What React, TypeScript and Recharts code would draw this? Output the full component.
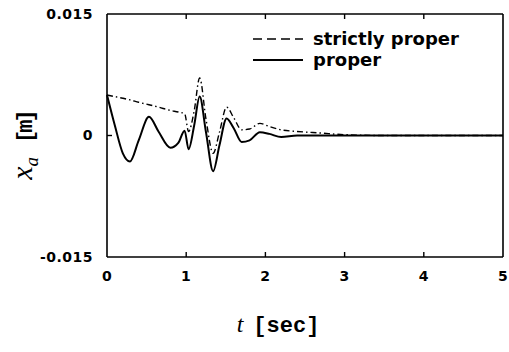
import { Line, LineChart, XAxis, YAxis } from "recharts";

const TIME = [
  0, 0.1, 0.2, 0.29, 0.4, 0.53, 0.65, 0.8, 0.9, 0.98, 1.03, 1.1, 1.17, 1.25, 1.34, 1.42, 1.51, 1.6,
  1.7, 1.8, 1.93, 2.05, 2.2, 2.4, 2.7, 3, 3.5, 4, 4.5, 5,
];

const PROPER = [
  0.005, 0.0012, -0.0022, -0.0032, -0.0006, 0.0023, 0.0005, -0.0015, -0.0009, 0.0006, -0.0017,
  0.0012, 0.0048, 0.0004, -0.0044, -0.0012, 0.0021, 0.0009, -0.0008, -0.0006, 0.0004, 0.0002,
  -0.0002, 0, 0, 0, 0, 0, 0, 0,
];

const STRICTLY_PROPER = [
  0.005, 0.0048, 0.0046, 0.0044, 0.0041, 0.0038, 0.0035, 0.0031, 0.0029, 0.0027, 0.0005, 0.003,
  0.0071, 0.002, -0.0022, 0.0004, 0.0035, 0.0022, 0.0007, 0.0008, 0.0015, 0.0011, 0.0007, 0.0005,
  0.0003, 0.0001, 0, 0, 0, 0,
];

const X_TICKS = [0, 1, 2, 3, 4, 5];
const Y_TICKS = [-0.015, 0, 0.015];

const data = TIME.map((t, i) => ({ t, proper: PROPER[i], strict: STRICTLY_PROPER[i] }));

const GAP = 14;
const MARK = 5;

const tickFont = {
  fontFamily: "DejaVu Sans",
  fontWeight: 700,
  fontSize: 14,
  letterSpacing: 0.5,
  fill: "#000",
};

// bottom ticks: label plus a short inward mark at the axis
function BottomTick(props: any) {
  const { x, y, payload } = props;
  const ay = y - GAP;
  const inner = payload.value > 0 && payload.value < 5;
  return (
    <g>
      {inner && <line x1={x} x2={x} y1={ay} y2={ay - MARK} stroke="#000" strokeWidth={1.4} />}
      <text x={x} y={y} dy="0.71em" textAnchor="middle" {...tickFont}>
        {payload.value}
      </text>
    </g>
  );
}

function TopTick(props: any) {
  const { x, y, payload } = props;
  if (payload.value <= 0 || payload.value >= 5) return <g />;
  return <line x1={x} x2={x} y1={y} y2={y + MARK} stroke="#000" strokeWidth={1.4} />;
}

function LeftTick(props: any) {
  const { x, y, payload } = props;
  const ax = x + GAP;
  const v = payload.value as number;
  return (
    <g>
      {v === 0 && <line x1={ax} x2={ax + MARK} y1={y} y2={y} stroke="#000" strokeWidth={1.4} />}
      <text x={x} y={y} dy="0.355em" textAnchor="end" {...tickFont}>
        {v === 0 ? "0" : v.toFixed(3)}
      </text>
    </g>
  );
}

function LegendBox() {
  return (
    <svg width={240} height={48} style={{ position: "absolute", left: 250, top: 28 }}>
      <line x1={3} x2={53} y1={11} y2={11} stroke="#000" strokeWidth={1.6} strokeDasharray="9 5" />
      <line x1={3} x2={53} y1={32} y2={32} stroke="#000" strokeWidth={2} />
      <text x={63} y={17} fontFamily="DejaVu Sans" fontWeight={700} fontSize={18} fill="#000">
        strictly proper
      </text>
      <text x={63} y={38} fontFamily="DejaVu Sans" fontWeight={700} fontSize={18} fill="#000">
        proper
      </text>
    </svg>
  );
}

function XLabel(props: any) {
  const { viewBox } = props;
  const cx = viewBox.x + viewBox.width / 2 - 27;
  return (
    <text x={cx} y={332} textAnchor="middle" fill="#000">
      <tspan fontFamily="Liberation Serif" fontStyle="italic" fontSize={24}>
        t
      </tspan>
      <tspan dx={10} fontFamily="Liberation Mono" fontWeight={700} fontSize={22}>
        [sec]
      </tspan>
    </text>
  );
}

function YLabel() {
  const x = 32;
  const y = 146;
  return (
    <text x={x} y={y} transform={`rotate(-90 ${x} ${y})`} textAnchor="middle" fill="#000">
      <tspan fontFamily="Liberation Serif" fontStyle="italic" fontSize={30}>
        x
      </tspan>
      <tspan fontFamily="Liberation Serif" fontStyle="italic" fontSize={19} dy={6}>
        a
      </tspan>
      <tspan dx={14} dy={-6} fontFamily="Liberation Mono" fontWeight={700} fontSize={22} letterSpacing={-3}>
        [m]
      </tspan>
    </text>
  );
}

export default function App() {
  return (
    <div style={{ position: "absolute", left: 0, top: 0, width: 509, height: 352, background: "#fff" }}>
      <LineChart width={509} height={352} data={data} margin={{ top: 13, right: 5, bottom: 0, left: 0 }}>
        <XAxis
          xAxisId="b"
          dataKey="t"
          type="number"
          domain={[0, 5]}
          ticks={X_TICKS}
          interval={0}
          height={95}
          stroke="#000"
          strokeWidth={1.6}
          tickLine={false}
          tickSize={0}
          tickMargin={GAP}
          tick={<BottomTick />}
          label={<XLabel />}
        />
        <XAxis
          xAxisId="top"
          orientation="top"
          dataKey="t"
          type="number"
          domain={[0, 5]}
          ticks={X_TICKS}
          interval={0}
          height={1}
          stroke="#000"
          strokeWidth={1.6}
          tickLine={false}
          tickSize={0}
          tickMargin={0}
          tick={<TopTick />}
        />
        <YAxis
          yAxisId="l"
          type="number"
          domain={[-0.015, 0.015]}
          ticks={Y_TICKS}
          interval={0}
          width={107}
          stroke="#000"
          strokeWidth={1.6}
          tickLine={false}
          tickSize={0}
          tickMargin={GAP}
          tick={<LeftTick />}
          label={<YLabel />}
        />
        <YAxis
          yAxisId="r"
          orientation="right"
          type="number"
          domain={[-0.015, 0.015]}
          width={1}
          stroke="#000"
          strokeWidth={1.6}
          tick={false}
          tickLine={false}
        />
        <Line
          xAxisId="b"
          yAxisId="l"
          dataKey="strict"
          type="monotone"
          stroke="#000"
          strokeWidth={1.4}
          strokeDasharray="6 3 1.5 3"
          dot={false}
          isAnimationActive={false}
        />
        <Line
          xAxisId="b"
          yAxisId="l"
          dataKey="proper"
          type="monotone"
          stroke="#000"
          strokeWidth={2}
          dot={false}
          isAnimationActive={false}
        />
      </LineChart>
      <LegendBox />
    </div>
  );
}
